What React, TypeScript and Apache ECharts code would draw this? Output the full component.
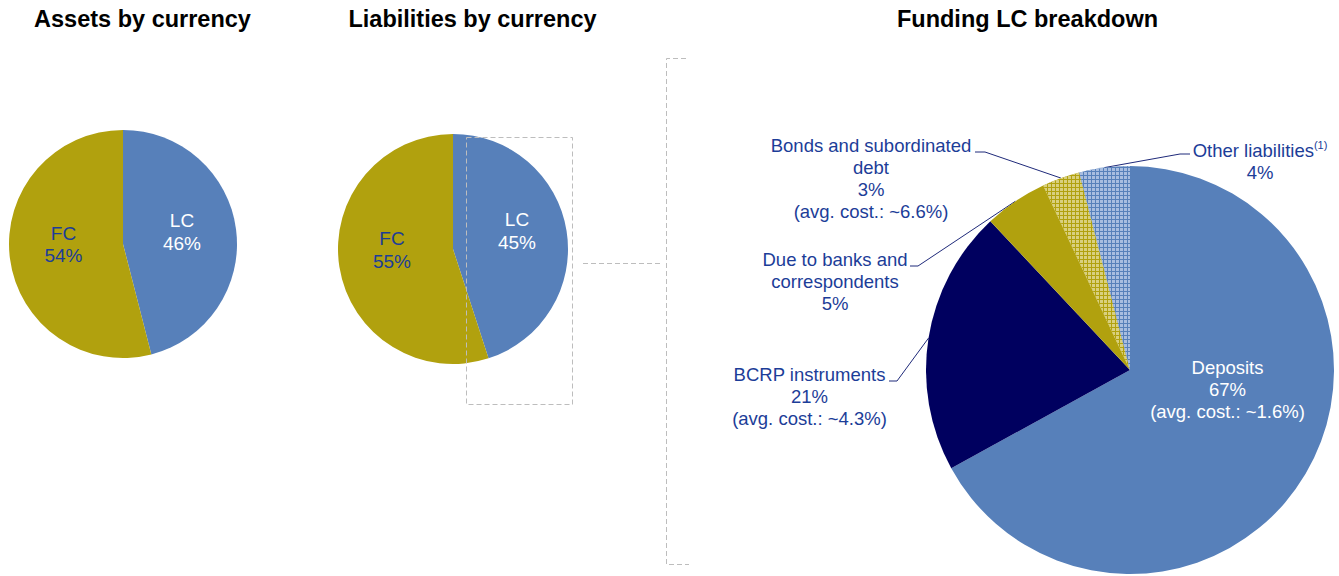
import React, { useEffect, useRef } from "react";
import * as echarts from "echarts";

// ---- data ----
const assetsCategories = ["LC", "FC"];
const assetsValues = [46, 54];

const liabilitiesCategories = ["LC", "FC"];
const liabilitiesValues = [45, 55];

const fundingCategories = [
  "Deposits",
  "BCRP instruments",
  "Due to banks and\ncorrespondents",
  "Bonds and subordinated\ndebt",
  "Other liabilities{sup|(1)}",
];
const fundingValues = [67, 21, 5, 3, 4];
const fundingAvgCost = ["~1.6%", "~4.3%", "", "~6.6%", ""];

const titles = ["Assets by currency", "Liabilities by currency", "Funding LC breakdown"];

// ---- styles / layout ----
const BLUE = "#5780BA";
const OLIVE = "#B1A10E";
const NAVY = "#00005F";
const TEXT_BLUE = "#1C3D98";
const LINE_NAVY = "#1F2A7A";
const FONT = "'Liberation Sans', Arial, sans-serif";

const titlePos = [
  [142.5, 19],
  [472.5, 19],
  [1027.5, 19],
];

const assetsLabelPos = [
  [182, 232],
  [63.5, 244.5],
];
const liabLabelPos = [
  [517, 231],
  [392, 250],
];
const fundingLabelPos = [
  [1227.5, 389],
  [809.5, 396.5],
  [835, 281.5],
  [871, 178.5],
  [1260, 161],
];
const fundingLineTail: (number[][] | null)[] = [
  null,
  [
    [897, 381],
    [889, 381],
  ],
  [
    [918, 266],
    [910, 266],
  ],
  [
    [985, 152],
    [975, 152],
  ],
  [
    [1180, 154],
    [1190, 154],
  ],
];

const FUND_CX = 1130;
const FUND_CY = 370;
const FUND_R = 204;

function edgePoint(idx: number) {
  const total = fundingValues.reduce((a, b) => a + b, 0);
  let cum = 0;
  for (let i = 0; i < idx; i++) cum += fundingValues[i];
  const a = ((cum + fundingValues[idx] / 2) / total) * Math.PI * 2;
  return [FUND_CX + FUND_R * Math.sin(a), FUND_CY - FUND_R * Math.cos(a)];
}

export default function App() {
  const ref = useRef<HTMLDivElement>(null);

  useEffect(() => {
    if (!ref.current) return;
    const chart = echarts.init(ref.current, undefined, { renderer: "svg" });

    const currencyPie = (
      cats: string[],
      vals: number[],
      center: number[],
      radius: number,
      pos: number[][]
    ) => ({
      type: "pie",
      center,
      radius,
      startAngle: 90,
      clockwise: true,
      avoidLabelOverlap: false,
      label: {
        show: true,
        position: "inside",
        fontFamily: FONT,
        fontSize: 19,
        lineHeight: 22.5,
        formatter: (p: any) => `${p.name}\n${p.value}%`,
      },
      labelLine: { show: false },
      labelLayout: (p: any) => ({
        x: pos[p.dataIndex][0],
        y: pos[p.dataIndex][1],
        align: "center",
        verticalAlign: "middle",
      }),
      emphasis: { disabled: true },
      data: cats.map((c, i) => ({
        name: c,
        value: vals[i],
        itemStyle: { color: c === "LC" ? BLUE : OLIVE },
        label: { color: c === "LC" ? "#FFFFFF" : TEXT_BLUE },
      })),
    });

    const fundingColors = [BLUE, NAVY, OLIVE, OLIVE, BLUE];
    const decals: any[] = [
      null,
      null,
      null,
      {
        symbol: "rect",
        symbolSize: 1,
        color: "#D9D07E",
        backgroundColor: OLIVE,
        dashArrayX: [3, 1],
        dashArrayY: [3, 1],
        rotation: 0,
      },
      {
        symbol: "rect",
        symbolSize: 1,
        color: "#A8BDE0",
        backgroundColor: BLUE,
        dashArrayX: [3, 1],
        dashArrayY: [3, 1],
        rotation: 0,
      },
    ];

    const option: any = {
      animation: false,
      backgroundColor: "#FFFFFF",
      textStyle: { fontFamily: FONT },
      series: [
        currencyPie(assetsCategories, assetsValues, [123, 244], 114, assetsLabelPos),
        currencyPie(liabilitiesCategories, liabilitiesValues, [453, 249], 115, liabLabelPos),
        {
          type: "pie",
          center: [FUND_CX, FUND_CY],
          radius: FUND_R,
          startAngle: 90,
          clockwise: true,
          avoidLabelOverlap: false,
          label: {
            show: true,
            position: "outside",
            fontFamily: FONT,
            fontSize: 18.5,
            lineHeight: 22,
            color: TEXT_BLUE,
            formatter: (p: any) => {
              const cost = fundingAvgCost[p.dataIndex];
              return `${p.name}\n${p.value}%` + (cost ? `\n(avg. cost.: ${cost})` : "");
            },
            rich: {
              sup: {
                fontSize: 11,
                lineHeight: 22,
                verticalAlign: "top",
                color: TEXT_BLUE,
                fontFamily: FONT,
                padding: [0, 0, 6, 0],
              },
            },
          },
          labelLine: {
            show: true,
            length: 10,
            length2: 10,
            lineStyle: { color: LINE_NAVY, width: 1 },
          },
          labelLayout: (p: any) => {
            const i = p.dataIndex;
            const res: any = {
              x: fundingLabelPos[i][0],
              y: fundingLabelPos[i][1],
              align: "center",
              verticalAlign: "middle",
            };
            const tail = fundingLineTail[i];
            if (tail) {
              const start =
                p.labelLinePoints && p.labelLinePoints[0] ? p.labelLinePoints[0] : edgePoint(i);
              res.labelLinePoints = [start, tail[0], tail[1]];
            }
            return res;
          },
          emphasis: { disabled: true },
          data: fundingCategories.map((c, i) => {
            const d: any = {
              name: c,
              value: fundingValues[i],
              itemStyle: { color: fundingColors[i] },
            };
            if (decals[i]) d.itemStyle.decal = decals[i];
            if (i === 0) {
              d.label = { position: "inside", color: "#FFFFFF" };
              d.labelLine = { show: false };
            }
            return d;
          }),
        },
      ],
      graphic: [
        ...titles.map((t, i) => ({
          type: "text",
          x: titlePos[i][0],
          y: titlePos[i][1],
          z: 100,
          style: {
            text: t,
            fill: "#000000",
            font: `bold 23.5px ${FONT}`,
            align: "center",
            verticalAlign: "middle",
            textAlign: "center",
            textVerticalAlign: "middle",
          },
        })),
        {
          type: "rect",
          z: 100,
          shape: { x: 466.5, y: 137.5, width: 106, height: 267 },
          style: { fill: "none", stroke: "#BDBDBD", lineWidth: 1, lineDash: [5, 3] },
        },
        {
          type: "line",
          z: 100,
          shape: { x1: 583, y1: 263.5, x2: 660, y2: 263.5 },
          style: { stroke: "#BDBDBD", lineWidth: 1, lineDash: [5, 3] },
        },
        {
          type: "polyline",
          z: 100,
          shape: {
            points: [
              [686, 58.5],
              [666.5, 58.5],
              [666.5, 564.5],
              [689, 564.5],
            ],
          },
          style: { fill: "none", stroke: "#BDBDBD", lineWidth: 1, lineDash: [5, 3] },
        },
      ],
    };

    chart.setOption(option);
    return () => chart.dispose();
  }, []);

  return (
    <div
      ref={ref}
      style={{ position: "fixed", left: 0, top: 0, width: 1339, height: 576 }}
    />
  );
}
